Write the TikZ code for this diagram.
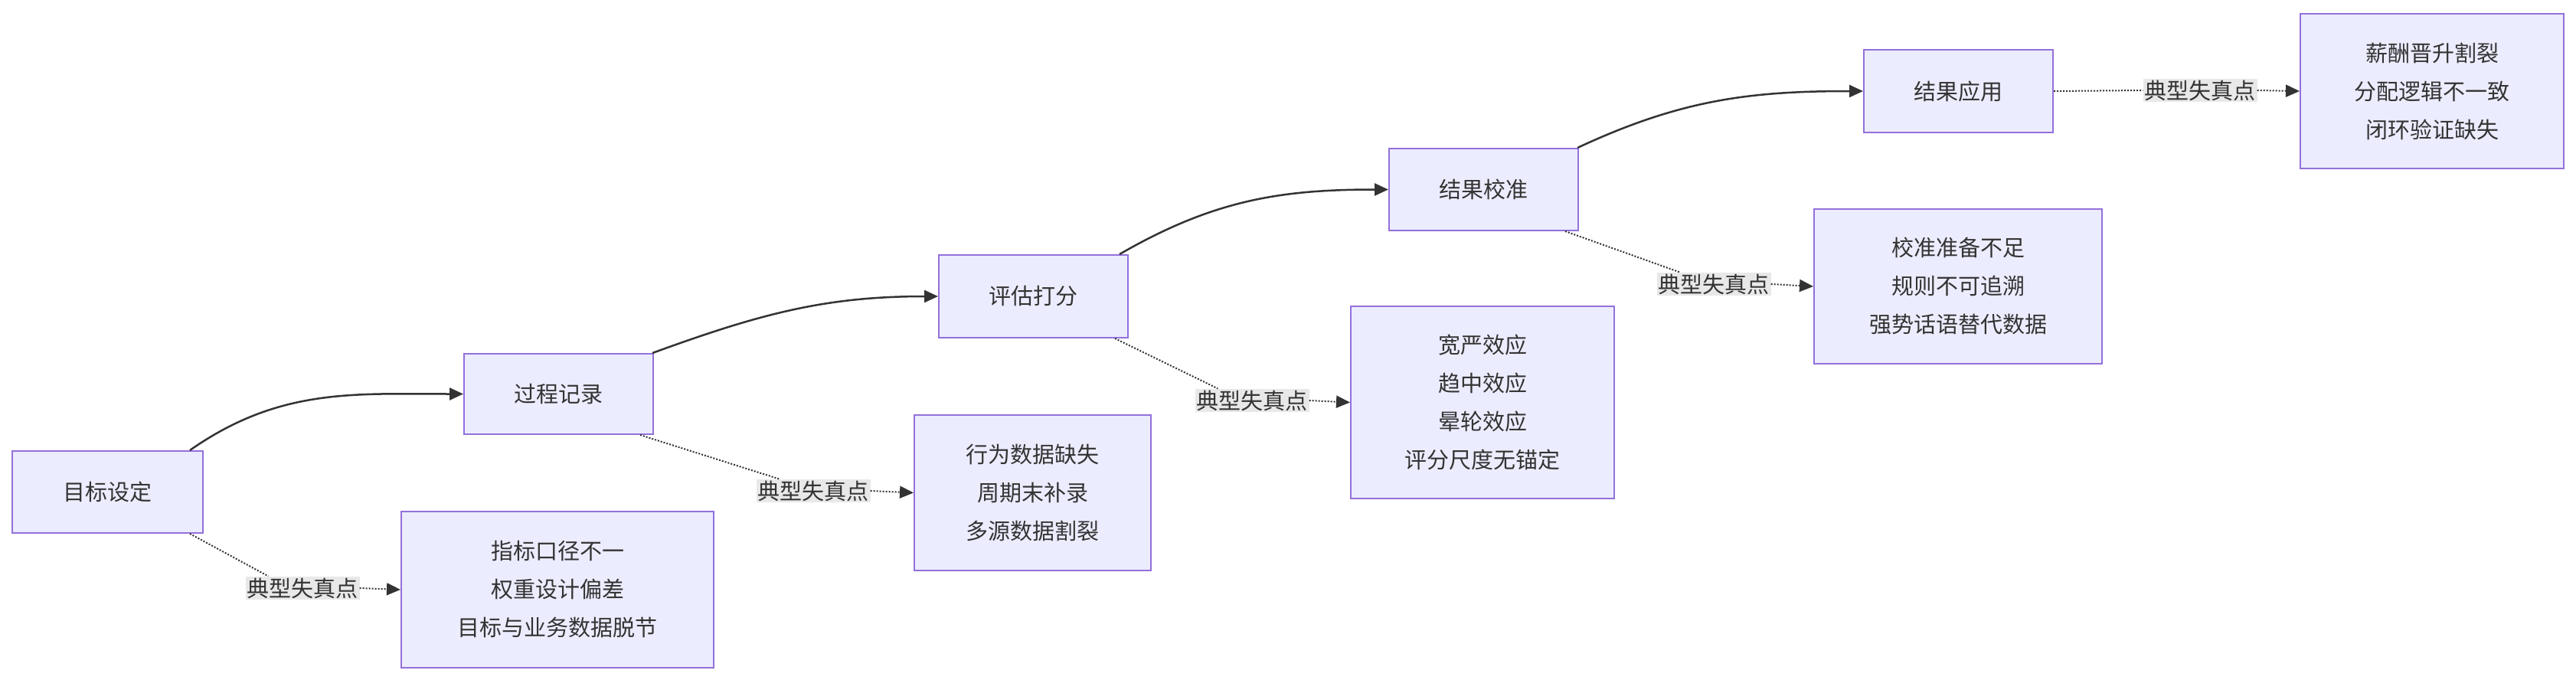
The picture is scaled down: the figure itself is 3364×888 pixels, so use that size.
\documentclass[tikz,border=0pt]{standalone}
\usepackage{fontspec}
\setmainfont{Noto Sans CJK SC}
\usetikzlibrary{arrows.meta}
\definecolor{boxfill}{HTML}{ECECFF}
\definecolor{boxdraw}{HTML}{9370DB}
\definecolor{txt}{HTML}{333333}
\definecolor{lab}{HTML}{E8E8E8}
\begin{document}
\begin{tikzpicture}[x=1pt,y=-1pt,
  box/.style={draw=boxdraw,fill=boxfill,line width=2pt,text=txt,font=\fontsize{29}{50}\selectfont,align=center,anchor=north west,inner sep=0pt},
  lbl/.style={fill=lab,text=txt,font=\fontsize{29}{34}\selectfont,inner sep=2pt},
  flow/.style={draw=txt,line width=2.5pt,-{Triangle[length=18pt,width=16pt]}},
  dot/.style={draw=txt,line width=2pt,dotted},
  dota/.style={dot,-{Triangle[length=18pt,width=16pt]}}]
\useasboundingbox (0,0) rectangle (3364,888);
\node[box,minimum width=249,minimum height=107] (a) at (15,588) {目标设定};
\node[box,minimum width=247,minimum height=105] (b) at (605,461) {过程记录};
\node[box,minimum width=247,minimum height=108] (c) at (1225,332) {评估打分};
\node[box,minimum width=247,minimum height=107] (d) at (1813,193) {结果校准};
\node[box,minimum width=247,minimum height=108] (e) at (2433,64) {结果应用};
\node[box,minimum width=408,minimum height=204] (p1) at (523,667) {指标口径不一\\权重设计偏差\\目标与业务数据脱节};
\node[box,minimum width=309,minimum height=203] (p2) at (1193,541) {行为数据缺失\\周期末补录\\多源数据割裂};
\node[box,minimum width=344,minimum height=251] (p3) at (1763,399) {宽严效应\\趋中效应\\晕轮效应\\评分尺度无锚定};
\node[box,minimum width=376,minimum height=202] (p4) at (2368,272) {校准准备不足\\规则不可追溯\\强势话语替代数据};
\node[box,minimum width=344,minimum height=202] (p5) at (3003,17) {薪酬晋升割裂\\分配逻辑不一致\\闭环验证缺失};
\node[lbl] (l1) at (395,768) {典型失真点};
\node[lbl] (l2) at (1062,641) {典型失真点};
\node[lbl] (l3) at (1635,523) {典型失真点};
\node[lbl] (l4) at (2238,371) {典型失真点};
\node[lbl] (l5) at (2873,118) {典型失真点};
\draw[flow] ([xshift=-18pt]a.north east) to[out=35,in=180] (b.west);
\draw[flow] ([xshift=-2pt]b.north east) to[out=20,in=180] (c.west);
\draw[flow] ([xshift=-12pt]c.north east) to[out=30,in=180] (d.west);
\draw[flow] ([xshift=-2pt]d.north east) to[out=25,in=180] (e.west);
\foreach \s/\l/\t in {a/l1/p1,b/l2/p2,c/l3/p3,d/l4/p4} {
  \draw[dot] ([xshift=-18pt]\s.south east) -- ([xshift=30pt]\l.north west);
  \draw[dota] (\l.east) -- (\t.west);
}
\draw[dot] (e.east) -- (l5.west);
\draw[dota] (l5.east) -- (p5.west);
\end{tikzpicture}
\end{document}
